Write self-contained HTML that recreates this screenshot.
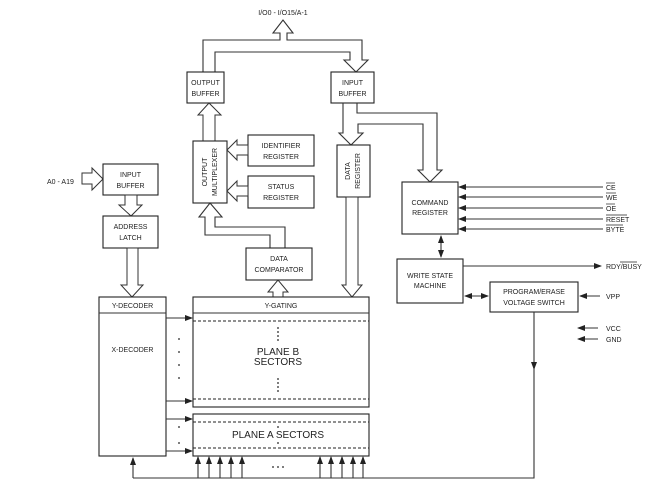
<!DOCTYPE html>
<html><head><meta charset="utf-8"><style>
html,body{margin:0;padding:0;background:#fff;}
svg{display:block;}
text{font-family:"Liberation Sans",sans-serif;font-size:7px;fill:#222;}
.b{fill:#fff;stroke:#222;stroke-width:1.1;}
.l{fill:none;stroke:#333;stroke-width:1.1;}
.h{fill:#fff;stroke:#333;stroke-width:1;}
.d{fill:none;stroke:#222;stroke-width:1;stroke-dasharray:3,2;}
.big{font-size:10px;}
</style></head><body>
<svg width="665" height="498" viewBox="0 0 665 498" xmlns="http://www.w3.org/2000/svg">
<defs>
<marker id="a" markerWidth="8" markerHeight="6" refX="7" refY="3" orient="auto" markerUnits="userSpaceOnUse"><path d="M0,0 L8,3 L0,6 z" fill="#222"/></marker>
<marker id="s" markerWidth="8" markerHeight="6" refX="1" refY="3" orient="auto" markerUnits="userSpaceOnUse"><path d="M8,0 L0,3 L8,6 z" fill="#222"/></marker>
</defs>
<rect width="665" height="498" fill="#fff"/>

<text x="283" y="15" text-anchor="middle">I/O0 - I/O15/A-1</text>
<polyline class="l" points="203,72 203,40 280,40 280,33 273,33 283,20 293,33 287,33 287,40 362,40 362,60 368,60 356,72 344,60 350,60 350,52 215,52 215,72"/>

<rect class="b" x="187" y="72" width="37" height="31"/>
<text x="205.5" y="85" text-anchor="middle">OUTPUT</text><text x="205.5" y="96" text-anchor="middle">BUFFER</text>
<rect class="b" x="331" y="72" width="43" height="31"/>
<text x="352.5" y="85" text-anchor="middle">INPUT</text><text x="352.5" y="96" text-anchor="middle">BUFFER</text>

<polygon class="h" points="203,141 203,115 198,115 209,103 221,115 215,115 215,141"/>
<rect class="b" x="193" y="141" width="34" height="62"/>
<text transform="translate(207,172) rotate(-90)" text-anchor="middle">OUTPUT</text>
<text transform="translate(217,172) rotate(-90)" text-anchor="middle">MULTIPLEXER</text>

<rect class="b" x="248" y="135" width="66" height="31"/>
<text x="281" y="148" text-anchor="middle">IDENTIFIER</text><text x="281" y="159" text-anchor="middle">REGISTER</text>
<rect class="b" x="248" y="176" width="66" height="32"/>
<text x="281" y="189" text-anchor="middle">STATUS</text><text x="281" y="200" text-anchor="middle">REGISTER</text>
<polygon class="h" points="248,145 237,145 237,140 227,150 237,160 237,155 248,155"/>
<polygon class="h" points="248,186 237,186 237,181 227,191 237,201 237,196 248,196"/>

<polyline class="l" points="270,248 270,235 205,235 205,217 199,217 210,203 222,217 215,217 215,227 285,227 285,248"/>
<rect class="b" x="246" y="248" width="66" height="32"/>
<text x="279" y="261" text-anchor="middle">DATA</text><text x="279" y="272" text-anchor="middle">COMPARATOR</text>
<polygon class="h" points="273,297 273,292 268,292 278,280 288,292 283,292 283,297"/>

<polyline class="l" points="343,103 343,133 339,133 351,145 363,133 358,133 358,124 423,124 423,170 418,170 430,182 442,170 437,170 437,113 357,113 357,103"/>
<rect class="b" x="337" y="145" width="33" height="52"/>
<text transform="translate(350,171) rotate(-90)" text-anchor="middle">DATA</text>
<text transform="translate(360,171) rotate(-90)" text-anchor="middle">REGISTER</text>
<polygon class="h" points="346,197 346,285 342,285 352,297 362,285 358,285 358,197"/>

<rect class="b" x="402" y="182" width="56" height="52"/>
<text x="430" y="205" text-anchor="middle">COMMAND</text><text x="430" y="215" text-anchor="middle">REGISTER</text>
<g class="l" marker-end="url(#a)">
<line x1="603" y1="187" x2="459" y2="187"/><line x1="603" y1="197" x2="459" y2="197"/><line x1="603" y1="208" x2="459" y2="208"/><line x1="603" y1="219" x2="459" y2="219"/><line x1="603" y1="229" x2="459" y2="229"/>
</g>
<text x="606" y="190">CE</text><line x1="606" y1="183" x2="615" y2="183" stroke="#222" stroke-width="0.7"/>
<text x="606" y="200">WE</text><line x1="606" y1="193" x2="616" y2="193" stroke="#222" stroke-width="0.7"/>
<text x="606" y="211">OE</text><line x1="606" y1="204" x2="615" y2="204" stroke="#222" stroke-width="0.7"/>
<text x="606" y="222">RESET</text><line x1="606" y1="215" x2="627" y2="215" stroke="#222" stroke-width="0.7"/>
<text x="606" y="232">BYTE</text><line x1="606" y1="225" x2="623" y2="225" stroke="#222" stroke-width="0.7"/>

<line class="l" x1="441" y1="236" x2="441" y2="257" marker-start="url(#s)" marker-end="url(#a)"/>
<rect class="b" x="397" y="259" width="66" height="44"/>
<text x="430" y="278" text-anchor="middle">WRITE STATE</text><text x="430" y="288" text-anchor="middle">MACHINE</text>
<line class="l" x1="463" y1="266" x2="601" y2="266" marker-end="url(#a)"/>
<text x="606" y="269">RDY/BUSY</text><line x1="620" y1="262" x2="637" y2="262" stroke="#222" stroke-width="0.7"/>
<line class="l" x1="465" y1="296" x2="488" y2="296" marker-start="url(#s)" marker-end="url(#a)"/>

<rect class="b" x="490" y="282" width="88" height="30"/>
<text x="534" y="294" text-anchor="middle">PROGRAM/ERASE</text><text x="534" y="305" text-anchor="middle">VOLTAGE SWITCH</text>
<line class="l" x1="600" y1="296" x2="580" y2="296" marker-end="url(#a)"/>
<text x="606" y="299">VPP</text>
<line class="l" x1="598" y1="328" x2="578" y2="328" marker-end="url(#a)"/>
<text x="606" y="331">VCC</text>
<line class="l" x1="598" y1="339" x2="578" y2="339" marker-end="url(#a)"/>
<text x="606" y="342">GND</text>
<line class="l" x1="534" y1="312" x2="534" y2="369" marker-end="url(#a)"/>
<polyline class="l" points="534,369 534,478 133,478"/>
<line class="l" x1="133" y1="478" x2="133" y2="458" marker-end="url(#a)"/>

<text x="47" y="184">A0 - A19</text>
<polygon class="h" points="82,173 92,173 92,168 103,179 92,190 92,184 82,184"/>
<rect class="b" x="103" y="164" width="55" height="31"/>
<text x="130.5" y="177" text-anchor="middle">INPUT</text><text x="130.5" y="188" text-anchor="middle">BUFFER</text>
<polygon class="h" points="125,195 125,205 119,205 131,216 142,205 137,205 137,195"/>
<rect class="b" x="103" y="216" width="55" height="32"/>
<text x="130.5" y="229" text-anchor="middle">ADDRESS</text><text x="130.5" y="240" text-anchor="middle">LATCH</text>
<polygon class="h" points="127,248 127,285 121,285 132,297 143,285 138,285 138,248"/>

<rect class="b" x="99" y="297" width="67" height="159"/>
<line class="l" x1="99" y1="313" x2="166" y2="313"/>
<text x="132.5" y="308" text-anchor="middle">Y-DECODER</text>
<text x="132.5" y="352" text-anchor="middle">X-DECODER</text>

<rect class="b" x="193" y="297" width="176" height="110"/>
<line class="l" x1="193" y1="313" x2="369" y2="313"/>
<text x="281" y="308" text-anchor="middle">Y-GATING</text>
<line class="d" x1="193" y1="321" x2="369" y2="321"/>
<line class="d" x1="193" y1="399" x2="369" y2="399"/>
<text class="big" x="278" y="355" text-anchor="middle">PLANE B</text>
<text class="big" x="278" y="365" text-anchor="middle">SECTORS</text>
<rect class="b" x="193" y="414" width="176" height="42"/>
<line class="d" x1="193" y1="422" x2="369" y2="422"/>
<line class="d" x1="193" y1="448" x2="369" y2="448"/>
<text class="big" x="278" y="438" text-anchor="middle">PLANE A SECTORS</text>

<g fill="#222">
<circle cx="278" cy="328" r="0.9"/><circle cx="278" cy="332" r="0.9"/><circle cx="278" cy="336" r="0.9"/><circle cx="278" cy="340" r="0.9"/>
<circle cx="278" cy="379" r="0.9"/><circle cx="278" cy="383" r="0.9"/><circle cx="278" cy="387" r="0.9"/><circle cx="278" cy="391" r="0.9"/>
<circle cx="278" cy="427" r="0.9"/><circle cx="278" cy="443" r="0.9"/>
<circle cx="179" cy="339" r="0.9"/><circle cx="179" cy="352" r="0.9"/><circle cx="179" cy="365" r="0.9"/><circle cx="179" cy="378" r="0.9"/>
<circle cx="179" cy="427" r="0.9"/><circle cx="179" cy="443" r="0.9"/>
<circle cx="273" cy="467" r="0.9"/><circle cx="278" cy="467" r="0.9"/><circle cx="283" cy="467" r="0.9"/>
</g>
<g class="l" marker-end="url(#a)">
<line x1="166" y1="318" x2="192" y2="318"/><line x1="166" y1="401" x2="192" y2="401"/>
<line x1="166" y1="419" x2="192" y2="419"/><line x1="166" y1="451" x2="192" y2="451"/>
<line x1="198" y1="478" x2="198" y2="457"/><line x1="209" y1="478" x2="209" y2="457"/><line x1="220" y1="478" x2="220" y2="457"/><line x1="231" y1="478" x2="231" y2="457"/><line x1="242" y1="478" x2="242" y2="457"/>
<line x1="320" y1="478" x2="320" y2="457"/><line x1="331" y1="478" x2="331" y2="457"/><line x1="342" y1="478" x2="342" y2="457"/><line x1="353" y1="478" x2="353" y2="457"/><line x1="363" y1="478" x2="363" y2="457"/>
</g>
</svg>
</body></html>
